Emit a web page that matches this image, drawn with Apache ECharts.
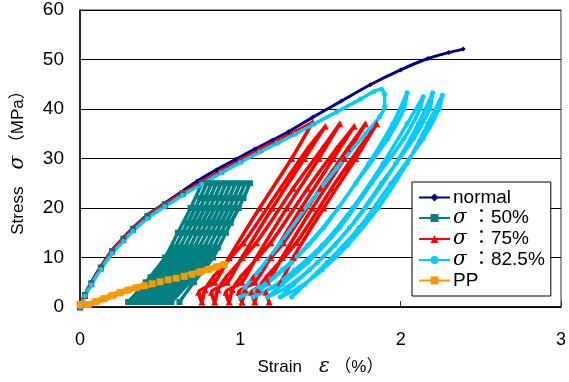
<!DOCTYPE html>
<html>
<head>
<meta charset="utf-8">
<script src="https://cdn.jsdelivr.net/npm/echarts@6/dist/echarts.min.js"></script>
<style>
  html, body { margin: 0; padding: 0; background: #fff; }
  #chart { width: 569px; height: 382px; }
</style>
</head>
<body>
<div id="chart"></div>
<script>
// 轴刻度
const xTicks = [0, 1, 2, 3];
const yTicks = [0, 10, 20, 30, 40, 50, 60];

// 单调加载 (normal)
const normalData = [
  [0, 0], [0.03, 2.5], [0.07, 5], [0.13, 8.2], [0.2, 11.5], [0.27, 14], [0.33, 16],
  [0.42, 18.6], [0.53, 21], [0.63, 23.2], [0.73, 25.4], [0.85, 27.7], [0.97, 29.8],
  [1.09, 31.9], [1.2, 33.7], [1.3, 35.4], [1.45, 38.3], [1.63, 41.6], [1.81, 44.9],
  [2.0, 47.9], [2.17, 50.2], [2.3, 51.4], [2.39, 52.1]
];

// σ：50% 循环
const s50Data = [
  [0, 0], [0.03, 2.4], [0.07, 4.8], [0.13, 8], [0.2, 11.3], [0.27, 13.8], [0.33, 15.8],
  [0.42, 18.4], [0.53, 20.8], [0.64, 23], [0.76, 25],
  [0.69, 20], [0.61, 15], [0.53, 10], [0.41, 5], [0.30, 1],
  [0.44, 6], [0.59, 12], [0.67, 17], [0.75, 22], [0.79, 25],
  [0.72, 20], [0.64, 15], [0.56, 10], [0.44, 5], [0.33, 1],
  [0.47, 6], [0.62, 12], [0.70, 17], [0.78, 22], [0.82, 25],
  [0.75, 20], [0.67, 15], [0.59, 10], [0.47, 5], [0.36, 1],
  [0.50, 6], [0.65, 12], [0.73, 17], [0.81, 22], [0.85, 25],
  [0.78, 20], [0.70, 15], [0.62, 10], [0.50, 5], [0.39, 1],
  [0.53, 6], [0.68, 12], [0.76, 17], [0.84, 22], [0.88, 25],
  [0.81, 20], [0.73, 15], [0.65, 10], [0.53, 5], [0.42, 1],
  [0.56, 6], [0.71, 12], [0.79, 17], [0.87, 22], [0.91, 25],
  [0.84, 20], [0.76, 15], [0.68, 10], [0.56, 5], [0.45, 1],
  [0.59, 6], [0.74, 12], [0.82, 17], [0.90, 22], [0.94, 25],
  [0.87, 20], [0.79, 15], [0.71, 10], [0.59, 5], [0.48, 1],
  [0.62, 6], [0.77, 12], [0.85, 17], [0.93, 22], [0.97, 25],
  [0.90, 20], [0.82, 15], [0.74, 10], [0.62, 5], [0.51, 1],
  [0.65, 6], [0.80, 12], [0.88, 17], [0.96, 22], [1.00, 25],
  [0.93, 20], [0.85, 15], [0.77, 10], [0.65, 5], [0.54, 1],
  [0.68, 6], [0.83, 12], [0.91, 17], [0.99, 22], [1.03, 25],
  [0.96, 20], [0.88, 15], [0.80, 10], [0.68, 5], [0.57, 1],
  [0.71, 6], [0.86, 12], [0.94, 17], [1.02, 22], [1.06, 25],
  [0.99, 20], [0.91, 15], [0.83, 10], [0.71, 5], [0.62, 1]
];

// σ：75% 循环
const s75Data = [
  [0, 0], [0.03, 2.3], [0.07, 4.7], [0.13, 7.9], [0.2, 11.2], [0.27, 13.7], [0.33, 15.7],
  [0.42, 18.3], [0.53, 20.7], [0.64, 23], [0.76, 25.2], [0.88, 27.5], [1.0, 29.7],
  [1.12, 31.8], [1.23, 33.6], [1.34, 35.4], [1.45, 37.3],
  [1.32, 30], [1.12, 20], [0.93, 10], [0.84, 5], [0.74, 3], [0.76, 1],
  [0.78, 3.5], [0.83, 6], [1.02, 13], [1.25, 24], [1.42, 32], [1.53, 36.5],
  [1.40, 30], [1.20, 20], [1.01, 10], [0.92, 5], [0.82, 3], [0.84, 1],
  [0.86, 3.5], [0.91, 6], [1.10, 13], [1.33, 24], [1.51, 32], [1.62, 37],
  [1.49, 30], [1.29, 20], [1.10, 10], [1.01, 5], [0.91, 3], [0.93, 1],
  [0.95, 3.5], [1.00, 6], [1.19, 13], [1.42, 24], [1.60, 32], [1.71, 36.5],
  [1.58, 30], [1.38, 20], [1.19, 10], [1.09, 5], [0.99, 3], [1.01, 1],
  [1.03, 3.5], [1.08, 6], [1.27, 13], [1.50, 24], [1.67, 32], [1.78, 37],
  [1.65, 30], [1.45, 20], [1.26, 10], [1.17, 5], [1.07, 3], [1.09, 1],
  [1.11, 3.5], [1.16, 6], [1.35, 13], [1.57, 24], [1.74, 32], [1.85, 37],
  [1.72, 30], [1.52, 20], [1.33, 10], [1.25, 5], [1.16, 3], [1.18, 1]
];

// σ：82.5% 循环
const s825Data = [
  [0, 0], [0.03, 2.2], [0.07, 4.5], [0.13, 7.6], [0.2, 10.8], [0.27, 13.3], [0.33, 15.3],
  [0.42, 17.9], [0.53, 20.3], [0.64, 22.6], [0.76, 24.8], [0.88, 27.1], [1.0, 29.2],
  [1.12, 31.3], [1.23, 33.1], [1.34, 34.9], [1.45, 36.8], [1.6, 39.4], [1.75, 42],
  [1.83, 43.5], [1.88, 44], [1.9, 43], [1.9, 40.5], [1.87, 38.5],
  [1.78, 35], [1.6, 28], [1.42, 20.5], [1.25, 13], [1.12, 7.5], [1.03, 4], [1.0, 2],
  [1.12, 4], [1.26, 7.5], [1.42, 12.5], [1.61, 20], [1.8, 29], [1.95, 37], [2.04, 43.3],
  [2.02, 40], [1.92, 34], [1.72, 25], [1.52, 16], [1.32, 9], [1.16, 4.5], [1.08, 2],
  [1.2, 4], [1.34, 7.5], [1.51, 12.5], [1.7, 20], [1.89, 29], [2.04, 37], [2.14, 42.5],
  [2.12, 40], [2.02, 34], [1.82, 25], [1.62, 16], [1.42, 9], [1.26, 4.5], [1.17, 2],
  [1.29, 4], [1.43, 7.5], [1.59, 12.5], [1.78, 20], [1.97, 29], [2.11, 37], [2.2, 43.3],
  [2.18, 40], [2.08, 34], [1.88, 25], [1.68, 16], [1.48, 9], [1.33, 4.5], [1.25, 2],
  [1.37, 4], [1.51, 7.5], [1.67, 12.5], [1.86, 20], [2.04, 29], [2.17, 37], [2.26, 42.8],
  [2.24, 40], [2.14, 34], [1.94, 25], [1.74, 16], [1.54, 9], [1.4, 4.5], [1.32, 2]
];

// PP
const ppData = [
  [0, 0.5], [0.05, 0.5], [0.1, 1.1], [0.15, 1.7], [0.2, 2.3], [0.25, 2.9], [0.3, 3.4],
  [0.35, 3.9], [0.4, 4.3], [0.45, 4.7], [0.5, 5.1], [0.55, 5.5], [0.6, 5.8], [0.65, 6.2],
  [0.7, 6.6], [0.75, 7.1], [0.8, 7.6], [0.85, 8.1], [0.9, 8.6]
];

const FONT = "'Liberation Sans', 'Noto Sans CJK JP', sans-serif";
const GREEK = { fontFamily: "'DejaVu Serif', serif", fontStyle: 'italic', fontSize: 20, color: '#000' };

const chart = echarts.init(document.getElementById('chart'));

const mkSeries = (name, data, color, symbol, size, width) => ({
  name,
  type: 'line',
  data,
  smooth: 0.25,
  symbol,
  symbolSize: size,
  showAllSymbol: true,
  lineStyle: { color, width },
  itemStyle: { color },
  emphasis: { disabled: true },
});

const option = {
  animation: false,
  backgroundColor: '#fff',
  grid: {
    left: 79, right: 3, top: 10, bottom: 75,
    show: true, borderColor: '#333', borderWidth: 1,
  },
  xAxis: {
    type: 'value',
    min: xTicks[0], max: xTicks[xTicks.length - 1], interval: 1,
    name: 'Strain　{g|ε} （%）',
    nameLocation: 'middle',
    nameGap: 50,
    nameTextStyle: { fontFamily: FONT, fontSize: 17, color: '#000', rich: { g: GREEK } },
    axisLine: { show: true, lineStyle: { color: '#000', width: 1.5 } },
    axisTick: { show: true, inside: true, length: 6, lineStyle: { color: '#333' } },
    axisLabel: { fontFamily: FONT, fontSize: 18, color: '#000', margin: 24 },
    splitLine: { show: false },
  },
  yAxis: {
    type: 'value',
    min: yTicks[0], max: yTicks[yTicks.length - 1], interval: 10,
    name: 'Stress　{g|σ} （MPa）',
    nameLocation: 'middle',
    nameGap: 52,
    nameTextStyle: { fontFamily: FONT, fontSize: 17, color: '#000', rich: { g: GREEK } },
    axisLine: { show: true, lineStyle: { color: '#000', width: 1.5 } },
    axisTick: { show: false },
    axisLabel: { fontFamily: FONT, fontSize: 19, color: '#000', margin: 16, padding: [6, 0, 0, 0] },
    splitLine: { show: true, lineStyle: { color: '#000', width: 1 } },
  },
  legend: {
    orient: 'vertical',
    left: 412, top: 182,
    width: 136,
    padding: [6, 6, 6, 6],
    itemWidth: 31,
    itemHeight: 10,
    itemGap: 1,
    backgroundColor: '#fff',
    borderColor: '#000',
    borderWidth: 1,
    borderRadius: 0,
    formatter: (name) => name.replace('σ', '{s|σ}'),
    textStyle: {
      fontFamily: FONT, fontSize: 19, color: '#000', lineHeight: 19, padding: [0, 0, 0, -2],
      rich: { s: Object.assign({}, GREEK, { lineHeight: 19 }) },
    },
    data: ['normal', 'σ ：50%', 'σ ：75%', 'σ ：82.5%', 'PP'],
  },
  series: [
    mkSeries('normal', normalData, '#000080', 'diamond', 5, 3),
    mkSeries('σ ：50%', s50Data, '#008080', 'rect', 6, 3.5),
    mkSeries('σ ：75%', s75Data, '#FF0000', 'triangle', 7, 3.5),
    mkSeries('σ ：82.5%', s825Data, '#00CCFF', 'circle', 5, 3.5),
    mkSeries('PP', ppData, '#FF9900', 'rect', 7, 6),
  ],
};

chart.setOption(option);
window.addEventListener('resize', () => chart.resize());
</script>
</body>
</html>
